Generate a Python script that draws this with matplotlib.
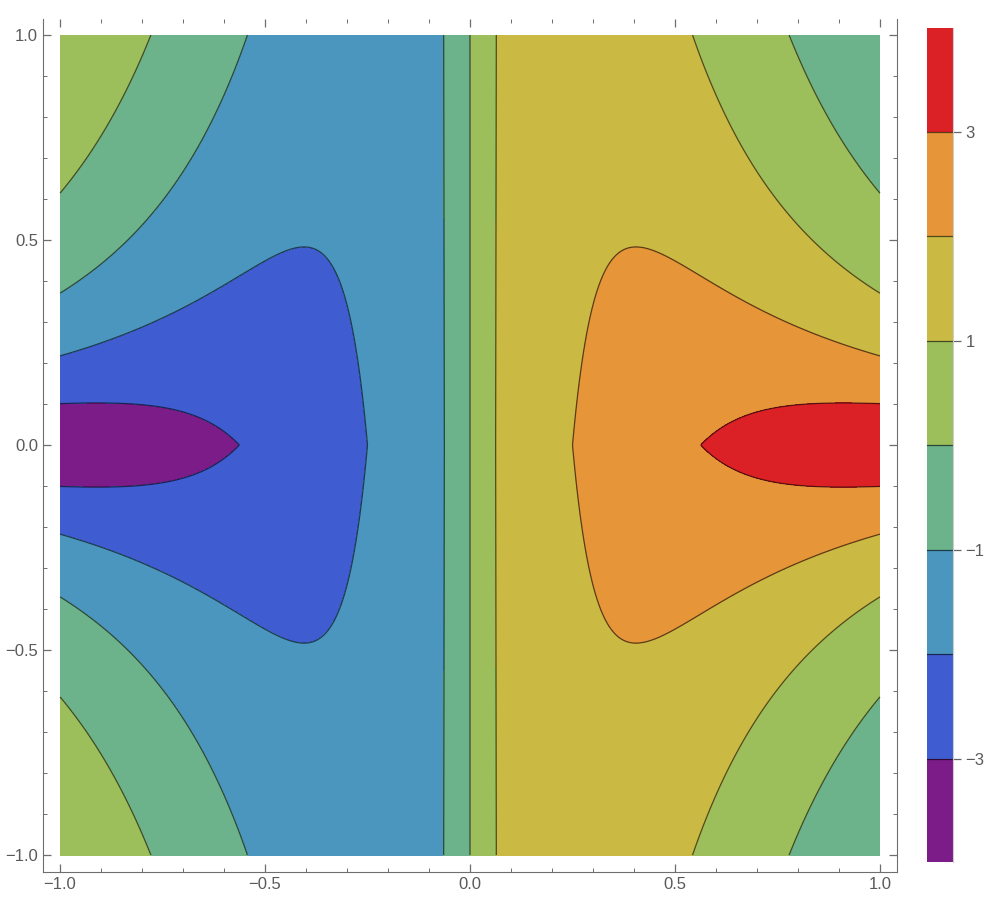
import numpy as np
import matplotlib
matplotlib.use("Agg")
import matplotlib.pyplot as plt

# ---- field coefficients (fitted to contour positions)
amp = 4.0          # f(x, 0) = amp * sqrt(x)
slope0 = 10.20     # initial |y| slope at x = 1
slope_pow = 2.409
sat_len = 0.5611   # saturation length in y at x = 1
sat_pow = 1.8787
sat_shape = 1.7257

# ---- chart data
levels = [-3, -2, -1, 0, 1, 2, 3]
band_colors = ["#7B1C88", "#3F5DD1", "#4B96BF", "#6CB38C",
               "#9CBE5B", "#CAB943", "#E69538", "#DC2126"]
tick_vals = [-1.0, -0.5, 0.0, 0.5, 1.0]
tick_labels = ["\u22121.0", "\u22120.5", "0.0", "0.5", "1.0"]
cbar_ticks = [-3, -1, 1, 3]
cbar_labels = ["\u22123", "\u22121", "1", "3"]


def field(x, y):
    ax_ = np.maximum(np.abs(x), 1e-9)
    ay = np.abs(y)
    L = sat_len * ax_ ** (-sat_pow)
    P = slope0 * ax_ ** slope_pow * ay / (1 + (ay / L) ** sat_shape) ** (1 / sat_shape)
    return np.sign(x) * (amp * np.sqrt(ax_) - P)


plt.rcParams["font.family"] = ["Liberation Sans", "DejaVu Sans"]

xs = np.linspace(-1, 1, 1000)
ys = np.linspace(-1, 1, 1000)
XX, YY = np.meshgrid(xs, ys)
ZZ = field(XX, YY)
zmin, zmax = ZZ.min(), ZZ.max()

fig = plt.figure(figsize=(10, 9.19), dpi=100)
ax = fig.add_axes([0.043, 0.0511, 0.854, 0.9282])
ax.contourf(XX, YY, ZZ, levels=[-100] + levels + [100], colors=band_colors)
ax.contour(XX, YY, ZZ, levels=levels, colors=[(0, 0, 0, 0.6)],
           linewidths=0.9, linestyles="solid")
pad = 17 / 410
ax.set_xlim(-1 - pad, 1 + pad)
ax.set_ylim(-1 - pad, 1 + 16 / 410)
frame_c = "#6e6e6e"
for s in ["left", "bottom", "right"]:
    ax.spines[s].set_color(frame_c)
ax.spines["top"].set_visible(False)
ax.set_xticks(tick_vals)
ax.set_xticklabels(tick_labels)
ax.set_yticks(tick_vals)
ax.set_yticklabels(tick_labels)
ax.set_xticks(np.arange(-10, 11) / 10, minor=True)
ax.set_yticks(np.arange(-10, 11) / 10, minor=True)
ax.tick_params(which="both", direction="in", top=True, right=True, color=frame_c,
               labelcolor="#5a5a5a", labelsize=12)
ax.tick_params(which="major", length=5.5, width=0.9)
ax.tick_params(which="minor", length=3, width=0.7)

cax = fig.add_axes([0.927, 0.062, 0.026, 0.907])
bounds = [zmin] + levels + [zmax]
for i in range(len(band_colors)):
    cax.axhspan(bounds[i], bounds[i + 1], color=band_colors[i], lw=0)
for lv in levels:
    cax.axhline(lv, color=(0, 0, 0, 0.6), lw=0.9)
cax.set_xlim(0, 1)
cax.set_ylim(zmin, zmax)
for s in ["left", "top", "bottom"]:
    cax.spines[s].set_visible(False)
cax.spines["right"].set_color("#cccccc")
cax.set_xticks([])
cax.yaxis.tick_right()
cax.set_yticks(cbar_ticks)
cax.set_yticklabels(cbar_labels)
cax.tick_params(axis="y", direction="out", length=6, width=0.9, color="#666666",
                labelcolor="#5a5a5a", labelsize=12, pad=3)

fig.savefig("out.png", dpi=100)
